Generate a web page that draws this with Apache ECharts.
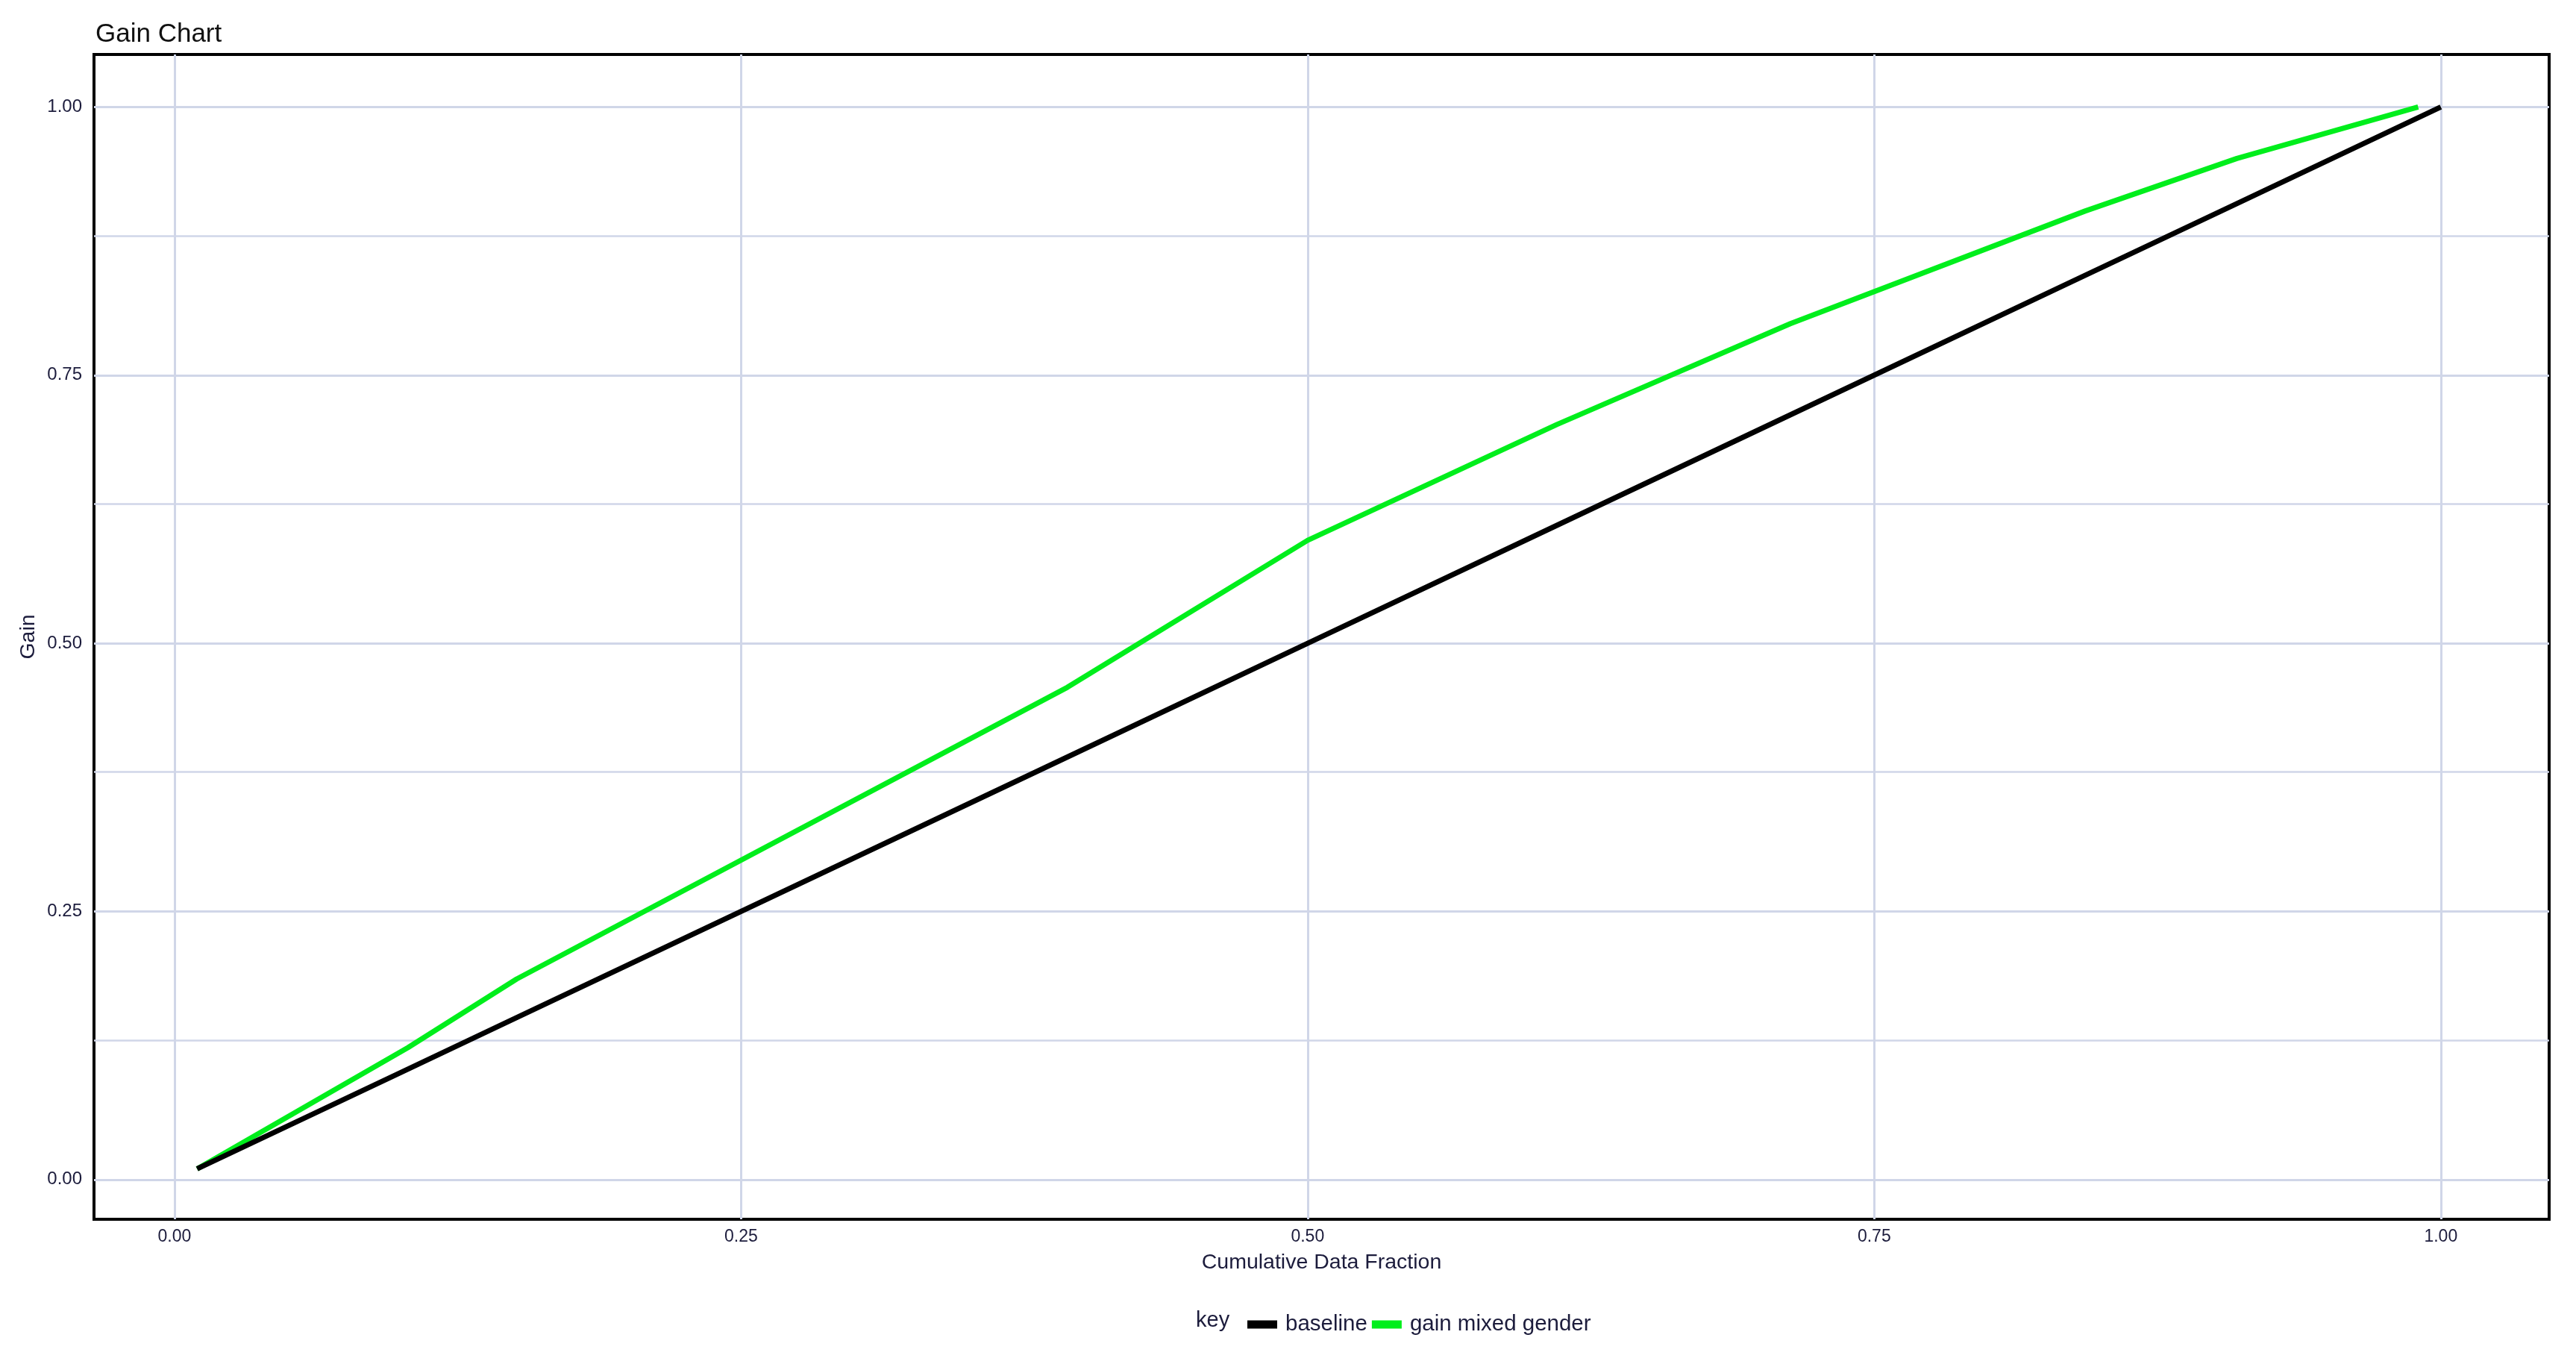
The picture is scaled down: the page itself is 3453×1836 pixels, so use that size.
<!DOCTYPE html>
<html>
<head>
<meta charset="utf-8">
<script src="https://cdn.jsdelivr.net/npm/echarts@6/dist/echarts.min.js"></script>
<style>
html,body{margin:0;padding:0;background:#fff;}
#chart{width:3453px;height:1836px;}
</style>
</head>
<body>
<div id="chart"></div>
<script>
// ---- data ----
const baselineX = [0.01, 0.10, 0.15, 0.39, 0.50, 0.61, 0.71, 0.84, 0.91, 1.00];
const baselineY = [0.01, 0.10, 0.15, 0.39, 0.50, 0.61, 0.71, 0.84, 0.91, 1.00];
const gainX = [0.01, 0.103, 0.151, 0.394, 0.50, 0.610, 0.713, 0.843, 0.910, 0.99];
const gainY = [0.01, 0.123, 0.187, 0.459, 0.596, 0.704, 0.798, 0.903, 0.952, 1.00];
const xTicks = [0, 0.25, 0.5, 0.75, 1];
const yTicks = [0, 0.25, 0.5, 0.75, 1];
const yMinor = [0.125, 0.375, 0.625, 0.875];
const seriesNames = ['baseline', 'gain mixed gender'];
const titleText = 'Gain Chart';
const xTitle = 'Cumulative Data Fraction';
const yTitle = 'Gain';
const legendTitle = 'key';

const FONT = 'Liberation Sans, Arial, sans-serif';
const TXT = '#1c1c3c';
const GRID = '#d0d6e8';

const chart = echarts.init(document.getElementById('chart'));
const pairs = (xs, ys) => xs.map((x, i) => [x, ys[i]]);

const gridMarks = [];
xTicks.forEach(v => gridMarks.push({ xAxis: v, lineStyle: { width: 3, color: GRID, type: 'solid' } }));
yTicks.forEach(v => gridMarks.push({ yAxis: v, lineStyle: { width: 3, color: GRID, type: 'solid' } }));
yMinor.forEach(v => gridMarks.push({ yAxis: v, lineStyle: { width: 2.5, color: GRID, type: 'solid' } }));

chart.setOption({
  animation: false,
  backgroundColor: '#fff',
  title: {
    text: titleText, left: 123, top: 24,
    textStyle: { fontFamily: FONT, fontSize: 35, fontWeight: 'normal', color: '#111' }
  },
  graphic: [{
    type: 'text', left: 1603, top: 1755,
    style: { text: legendTitle, fontFamily: FONT, fontSize: 29, fill: TXT }
  }],
  legend: {
    data: seriesNames, left: 1667, top: 1755,
    icon: 'rect', itemWidth: 40, itemHeight: 11, itemGap: 6,
    textStyle: { fontFamily: FONT, fontSize: 29.5, color: TXT, padding: [0, 0, 0, 6] }
  },
  grid: {
    left: 126, right: 36, top: 73, bottom: 202,
    show: true, borderColor: '#000', borderWidth: 4, backgroundColor: 'transparent'
  },
  xAxis: {
    type: 'value', min: -0.0355, max: 1.0478,
    name: xTitle, nameLocation: 'middle', nameGap: 44,
    nameTextStyle: { fontFamily: FONT, fontSize: 28.5, color: TXT },
    axisLine: { show: false },
    splitLine: { show: false },
    axisTick: { show: true, customValues: xTicks, length: 8, lineStyle: { color: GRID, width: 3 } },
    axisLabel: { customValues: xTicks, margin: 12, fontFamily: FONT, fontSize: 23, color: TXT,
      formatter: v => v.toFixed(2) }
  },
  yAxis: {
    type: 'value', min: -0.037, max: 1.049,
    name: yTitle, nameLocation: 'middle', nameGap: 68, nameRotate: 90,
    nameTextStyle: { fontFamily: FONT, fontSize: 28.5, color: TXT },
    axisLine: { show: false },
    splitLine: { show: false },
    axisTick: { show: true, customValues: yTicks, length: 8, lineStyle: { color: GRID, width: 3 } },
    axisLabel: { customValues: yTicks, margin: 16, fontFamily: FONT, fontSize: 24, color: TXT,
      formatter: v => v.toFixed(2) }
  },
  series: [
    {
      name: '__grid', type: 'line', data: [], z: 1, silent: true,
      markLine: { silent: true, z: 1, symbol: 'none', label: { show: false }, animation: false,
        data: gridMarks }
    },
    {
      name: seriesNames[1], type: 'line', data: pairs(gainX, gainY), z: 3,
      showSymbol: false, symbol: 'none', color: '#00ee1c',
      lineStyle: { width: 7, color: '#00ee1c' }
    },
    {
      name: seriesNames[0], type: 'line', data: pairs(baselineX, baselineY), z: 4,
      showSymbol: false, symbol: 'none', color: '#000',
      lineStyle: { width: 7, color: '#000' }
    }
  ]
});
</script>
</body>
</html>
